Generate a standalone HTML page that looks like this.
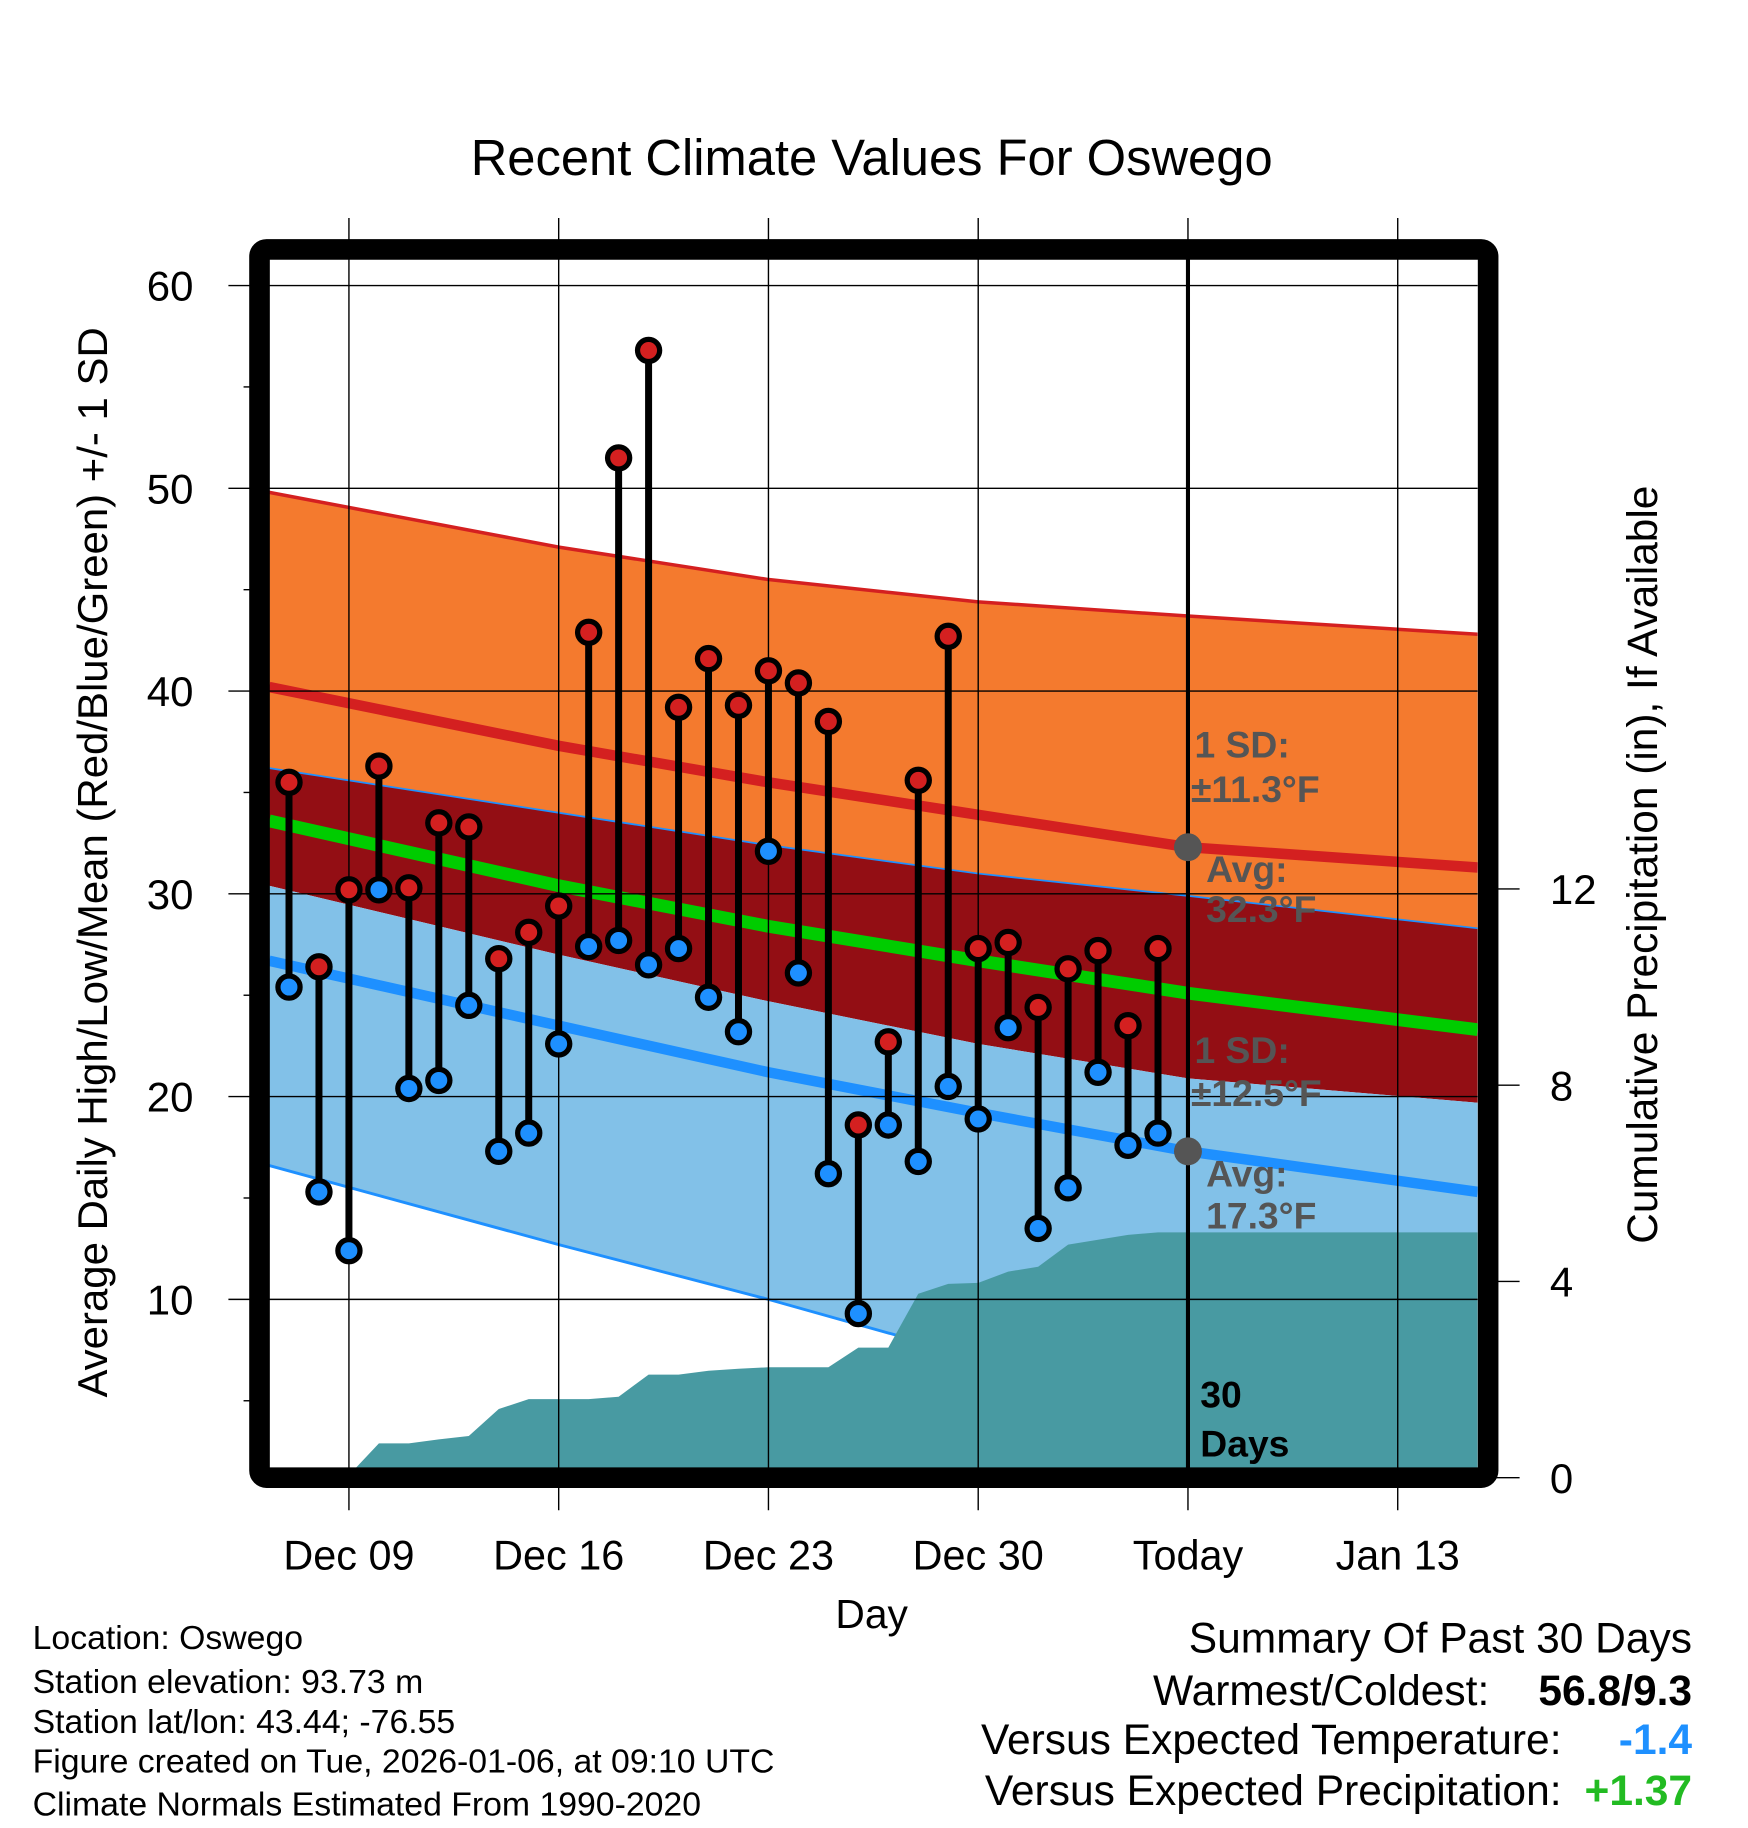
<!DOCTYPE html>
<html><head><meta charset="utf-8"><style>
html,body{margin:0;padding:0;background:#fff;}
svg{display:block;font-family:"Liberation Sans",sans-serif;}
</style></head><body>
<svg id="chart" width="1748" height="1828" viewBox="0 0 1500 1568.6" xmlns="http://www.w3.org/2000/svg">
<defs><clipPath id="plotclip"><rect x="231" y="223" width="1037" height="1037"/></clipPath></defs>
<g id="bands" clip-path="url(#plotclip)"></g>
<g id="grid"></g>
<g id="marks" clip-path="url(#plotclip)"></g>
<g id="ann"></g>
<rect x="222.7" y="214" width="1054.3" height="1054" rx="6" fill="none" stroke="#000" stroke-width="17.7"/>
<g id="axes"></g>
<text x="748" y="150" font-size="43.5" text-anchor="middle">Recent Climate Values For Oswego</text>
<text transform="translate(92,740) rotate(-90)" font-size="36" text-anchor="middle">Average Daily High/Low/Mean (Red/Blue/Green) +/- 1 SD</text>
<text transform="translate(1422,742) rotate(-90)" font-size="36.4" text-anchor="middle">Cumulative Precipitation (in), If Available</text>
<text x="748" y="1397" font-size="35" text-anchor="middle">Day</text>
<g font-size="29">
<text x="28" y="1415">Location: Oswego</text>
<text x="28" y="1453">Station elevation: 93.73 m</text>
<text x="28" y="1487">Station lat/lon: 43.44; -76.55</text>
<text x="28" y="1521">Figure created on Tue, 2026-01-06, at 09:10 UTC</text>
<text x="28" y="1558">Climate Normals Estimated From 1990-2020</text>
</g>
<g font-size="36.5" text-anchor="end">
<text x="1452" y="1418">Summary Of Past 30 Days</text>
<text x="1278" y="1463">Warmest/Coldest:</text>
<text x="1452" y="1463" font-weight="bold">56.8/9.3</text>
<text x="1340" y="1505">Versus Expected Temperature:</text>
<text x="1452" y="1505" font-weight="bold" fill="#1e90ff">-1.4</text>
<text x="1340" y="1549">Versus Expected Precipitation:</text>
<text x="1452" y="1549" font-weight="bold" fill="#22bb22">+1.37</text>
</g>
</svg>
<script>
// ---- data ----
const normDays = [-0.66, 9, 16, 23, 30, 39.67];
const orangeTop = [49.8, 47.1, 45.5, 44.4, 43.7, 42.8];
const highMean = [40.2, 37.3, 35.5, 33.9, 32.3, 31.3];
const darkTop = [36.2, 34.0, 32.4, 31.0, 29.9, 28.3];
const meanMean = [33.6, 30.4, 28.4, 26.7, 25.1, 23.3];
const darkBottom = [30.4, 27.0, 24.7, 22.6, 20.9, 19.7];
const lowMean = [26.7, 23.5, 21.2, 19.2, 17.3, 15.3];
const blueBottom = [16.6, 12.7, 10.0, 7.1, 4.4, 0.8];
const highs = [35.5,26.4,30.2,36.3,30.3,33.5,33.3,26.8,28.1,29.4,42.9,51.5,56.8,39.2,41.6,39.3,41.0,40.4,38.5,18.6,22.7,35.6,42.7,27.3,27.6,24.4,26.3,27.2,23.5,27.3];
const lows = [25.4,15.3,12.4,30.2,20.4,20.8,24.5,17.3,18.2,22.6,27.4,27.7,26.5,27.3,24.9,23.2,32.1,26.1,16.2,9.3,18.6,16.8,20.5,18.9,23.4,13.5,15.5,21.2,17.6,18.2];
const precip = [0,0,0.05,0.7,0.7,0.78,0.85,1.4,1.6,1.6,1.6,1.65,2.1,2.1,2.18,2.22,2.25,2.25,2.25,2.65,2.65,3.75,3.95,3.97,4.2,4.3,4.75,4.85,4.95,5.0];
const yTicks = [10,20,30,40,50,60];
const y2Ticks = [0,4,8,12];
const xTickDays = [2,9,16,23,30,37];
const xTickLabels = ["Dec 09","Dec 16","Dec 23","Dec 30","Today","Jan 13"];
// ---- scales ----
const X = d => 248 + d*25.714;
const Y = v => 245 + (60-v)*17.4;
const P = p => 1268 - p*42.1;
const NS="http://www.w3.org/2000/svg";
function mk(tag, parent, attrs){const e=document.createElementNS(NS,tag);for(const k in attrs)e.setAttribute(k,attrs[k]);parent.appendChild(e);return e;}
const bands=document.getElementById('bands'),grid=document.getElementById('grid'),marks=document.getElementById('marks'),ann=document.getElementById('ann'),axes=document.getElementById('axes');
const pts = arr => normDays.map((d,i)=>X(d)+','+Y(arr[i]));
function band(top,bot,fill,name){
  const p=pts(top).concat(pts(bot).reverse());
  const e=mk('polygon',bands,{points:p.join(' '),fill:fill});
  
  
}
function line(arr,color,w,name){
  const e=mk('polyline',bands,{points:pts(arr).join(' '),fill:'none',stroke:color,'stroke-width':w,'stroke-linejoin':'round'});
  
  
}
band(orangeTop,darkTop,'#f47a2e','high-sd-band');
band(darkTop,darkBottom,'#930e14','mean-band');
band(darkBottom,blueBottom,'#82c1e8','low-sd-band');
line(orangeTop,'#d42020',3,'high-sd-line');
line(darkTop,'#1e90ff',1.5,'low-sd-top-line');
line(blueBottom,'#1e90ff',2.5,'low-sd-bottom-line');
line(highMean,'#d42020',9,'normal-high-line');
line(meanMean,'#00cc00',11,'normal-mean-line');
line(lowMean,'#1e90ff',9,'normal-low-line');
// precipitation area
let pp=[X(-0.66)+','+P(0)];
precip.forEach((v,i)=>pp.push(X(i)+','+P(v)));
pp.push(X(39.67)+','+P(precip[precip.length-1]));
pp.push(X(39.67)+','+P(0));
const area=mk('polygon',bands,{points:pp.join(' '),fill:'#489aa2'});


// grid
yTicks.forEach(v=>{
  const g=mk('line',grid,{x1:196,x2:1268,y1:Y(v),y2:Y(v),stroke:'#000','stroke-width':1.2});
  
  
  const t=mk('text',axes,{x:166,y:Y(v)+13,'font-size':36,'text-anchor':'end'});t.textContent=v;
  
  
});
for(let v=5;v<=55;v+=10){const m=mk('line',axes,{x1:209,x2:215,y1:Y(v),y2:Y(v),stroke:'#000','stroke-width':1.2});
  
  }
xTickDays.forEach((d,i)=>{
  const g=mk('line',grid,{x1:X(d),x2:X(d),y1:187,y2:1296,stroke:'#000','stroke-width':1.2});
  
  
  const t=mk('text',axes,{x:X(d),y:1347,'font-size':35.5,'text-anchor':'middle'});t.textContent=xTickLabels[i];
  
  
});
y2Ticks.forEach(v=>{
  const g=mk('line',axes,{x1:1277,x2:1304,y1:P(v),y2:P(v),stroke:'#000','stroke-width':1.2});
  
  
  const t=mk('text',axes,{x:1330,y:P(v)+13,'font-size':36});t.textContent=v;
  
  
});
// today line
const tl=mk('line',grid,{x1:X(30),x2:X(30),y1:222,y2:1262,stroke:'#000','stroke-width':3.5});


// daily marks
highs.forEach((h,i)=>{
  const l=mk('line',marks,{x1:X(i),x2:X(i),y1:Y(h),y2:Y(lows[i]),stroke:'#000','stroke-width':6});
  
  
});
highs.forEach((h,i)=>{
  const c=mk('circle',marks,{cx:X(i),cy:Y(h),r:9.5,fill:'#d42020',stroke:'#000','stroke-width':4.5});
  
  
  const c2=mk('circle',marks,{cx:X(i),cy:Y(lows[i]),r:9.5,fill:'#1e90ff',stroke:'#000','stroke-width':4.5});
  
  
});
// annotations
const tx=X(30);
[highMean[4],lowMean[4]].forEach(v=>{
  const c=mk('circle',ann,{cx:tx,cy:Y(v),r:12,fill:'#555'});
  
  
});
const labs=[["1 SD:",1025,650,'#555'],["±11.3°F",1022,688,'#555'],["Avg:",1035,757,'#555'],["32.3°F",1035,791,'#555'],
["1 SD:",1025,912,'#555'],["±12.5°F",1022,949,'#555'],["Avg:",1035,1018,'#555'],["17.3°F",1035,1054,'#555'],
["30",1030,1208,'#000'],["Days",1030,1250,'#000']];
labs.forEach(a=>{
  const t=mk('text',ann,{x:a[1],y:a[2],'font-size':32,'font-weight':'bold',fill:a[3]});t.textContent=a[0];
  
  
});
</script>
</body></html>
